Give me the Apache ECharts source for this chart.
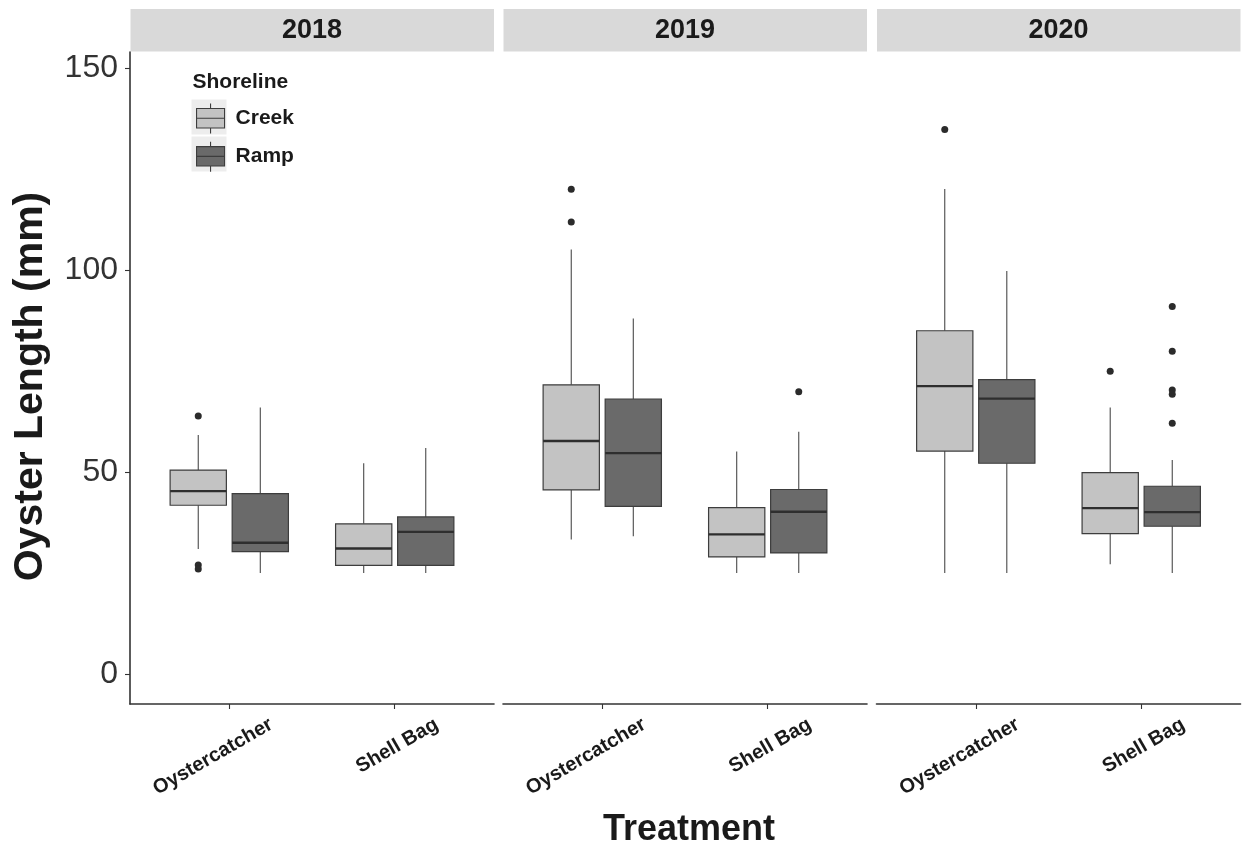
<!DOCTYPE html>
<html>
<head>
<meta charset="utf-8">
<script src="https://cdn.jsdelivr.net/npm/echarts@6/dist/echarts.min.js"></script>
<style>
  html, body { margin: 0; padding: 0; background: #ffffff; }
  #chart { width: 1248px; height: 849px; }
</style>
</head>
<body>
<div id="chart"></div>
<script>
// ---------------- data ----------------
const years = ['2018', '2019', '2020'];
const treatments = ['Oystercatcher', 'Shell Bag'];
const shorelines = ['Creek', 'Ramp'];
const yTicks = [0, 50, 100, 150];

// per year -> per treatment: [lower whisker, Q1, median, Q3, upper whisker] (mm)
const creekBoxes = [
  [[31.0, 41.8, 45.3, 50.5, 59.2], [25.0, 26.9, 31.1, 37.2, 52.2]],
  [[33.3, 45.6, 57.7, 71.6, 105.1], [25.0, 29.0, 34.6, 41.2, 55.1]],
  [[25.0, 55.2, 71.3, 85.0, 120.1], [27.2, 34.8, 41.1, 49.9, 66.0]]
];
const rampBoxes = [
  [[25.0, 30.3, 32.5, 44.7, 66.0], [25.0, 26.9, 35.2, 38.9, 56.0]],
  [[34.1, 41.5, 54.7, 68.1, 88.0], [25.0, 30.0, 40.2, 45.7, 60.0]],
  [[25.0, 52.2, 68.2, 72.9, 99.8], [25.0, 36.6, 40.1, 46.5, 53.0]]
];
// per year -> per treatment: outlier values (mm)
const creekOutliers = [
  [[63.9, 27.0, 26.0], []],
  [[120.0, 111.9], []],
  [[134.8], [75.0]]
];
const rampOutliers = [
  [[], []],
  [[], [69.9]],
  [[], [91.0, 79.9, 70.3, 69.3, 62.1]]
];

// ---------------- styling / layout ----------------
const FONT = '"Liberation Sans", Arial, Helvetica, sans-serif';
const FILLS = ['#c3c3c3', '#6a6a6a'];
const DODGE = [-0.1875, 0.1875];
const BOX_HALF = 0.17;
const LABEL_SHIFT = 0.254;
const GRID_LEFTS = [130, 503, 876.5];
const GRID_W = 364;
const GRID_TOP = 52;
const GRID_BOTTOM = 704;

function makeRender(offset, fill) {
  return function (params, api) {
    const x = api.value(0) + offset;
    const lo = api.coord([x, api.value(1)]);
    const q1 = api.coord([x, api.value(2)]);
    const md = api.coord([x, api.value(3)]);
    const q3 = api.coord([x, api.value(4)]);
    const hi = api.coord([x, api.value(5)]);
    const left = api.coord([x - BOX_HALF, api.value(3)])[0];
    const right = api.coord([x + BOX_HALF, api.value(3)])[0];
    const wStyle = { stroke: '#4a4a4a', lineWidth: 1.1 };
    return {
      type: 'group',
      children: [
        { type: 'line', shape: { x1: lo[0], y1: lo[1], x2: q1[0], y2: q1[1] }, style: wStyle },
        { type: 'line', shape: { x1: q3[0], y1: q3[1], x2: hi[0], y2: hi[1] }, style: wStyle },
        { type: 'rect', shape: { x: left, y: q3[1], width: right - left, height: q1[1] - q3[1] },
          style: { fill: fill, stroke: '#3d3d3d', lineWidth: 1.2 } },
        { type: 'line', shape: { x1: left, y1: md[1], x2: right, y2: md[1] },
          style: { stroke: '#2e2e2e', lineWidth: 2.4 } }
      ]
    };
  };
}

const grids = [], xAxes = [], yAxes = [], series = [], graphics = [];

years.forEach(function (yr, i) {
  grids.push({ left: GRID_LEFTS[i], width: GRID_W, top: GRID_TOP, height: GRID_BOTTOM - GRID_TOP,
    containLabel: false, outerBoundsMode: 'none' });
  xAxes.push({
    type: 'value', gridIndex: i, min: 0.4, max: 2.6,
    splitLine: { show: false },
    axisLine: { show: true, onZero: false, lineStyle: { color: '#333', width: 1.6 } },
    axisTick: { show: true, length: 5, customValues: [1, 2], lineStyle: { color: '#333', width: 1.1 } },
    axisLabel: {
      show: true, customValues: [1 + LABEL_SHIFT, 2 + LABEL_SHIFT], rotate: 30, margin: 19,
      align: 'right', verticalAlign: 'middle',
      fontFamily: FONT, fontWeight: 'bold', fontSize: 20, color: '#1a1a1a',
      formatter: function (v) { return treatments[Math.round(v - LABEL_SHIFT) - 1] || ''; }
    },
    name: i === 1 ? 'Treatment' : '',
    nameLocation: 'middle', nameGap: 108,
    nameTextStyle: { fontFamily: FONT, fontWeight: 'bold', fontSize: 36, color: '#1a1a1a', padding: [0, 0, 0, 8] }
  });
  yAxes.push({
    type: 'value', gridIndex: i, min: -7.4, max: 154,
    show: i === 0,
    splitLine: { show: false },
    axisLine: { show: i === 0, lineStyle: { color: '#333', width: 1.6 } },
    axisTick: { show: i === 0, length: 5, customValues: yTicks, lineStyle: { color: '#333', width: 1.1 } },
    axisLabel: { show: i === 0, customValues: yTicks, margin: 12, fontFamily: FONT, fontSize: 32, color: '#333' },
    name: i === 0 ? 'Oyster Length (mm)' : '',
    nameLocation: 'middle', nameGap: 79,
    nameTextStyle: { fontFamily: FONT, fontWeight: 'bold', fontSize: 41, color: '#1a1a1a', padding: [0, 17, 0, 0] }
  });

  [creekBoxes, rampBoxes].forEach(function (stats, s) {
    series.push({
      type: 'custom', name: shorelines[s], xAxisIndex: i, yAxisIndex: i,
      data: stats[i].map(function (b, t) { return [t + 1].concat(b); }),
      encode: { x: 0, y: [1, 2, 3, 4, 5] },
      itemStyle: { color: FILLS[s] },
      renderItem: makeRender(DODGE[s], FILLS[s]),
      z: 2
    });
  });
  [creekOutliers, rampOutliers].forEach(function (outs, s) {
    const pts = [];
    outs[i].forEach(function (arr, t) { arr.forEach(function (v) { pts.push([t + 1 + DODGE[s], v]); }); });
    series.push({
      type: 'scatter', name: shorelines[s], xAxisIndex: i, yAxisIndex: i,
      data: pts, symbolSize: 7, itemStyle: { color: '#2b2b2b', opacity: 1 }, z: 3,
      emphasis: { disabled: true }
    });
  });

  // facet strip
  graphics.push({ type: 'rect', left: GRID_LEFTS[i] + 0.5, top: 9, shape: { width: GRID_W - 0.5, height: 42.5 },
    style: { fill: '#d9d9d9' }, z: 0 });
  graphics.push({ type: 'text', x: GRID_LEFTS[i] + GRID_W / 2, y: 30.5,
    style: { text: yr, font: 'bold 27px ' + FONT, fill: '#1a1a1a', textAlign: 'center', textVerticalAlign: 'middle' }, z: 1 });
});

// legend key backgrounds and title
graphics.push({ type: 'rect', left: 191.5, top: 99.5, shape: { width: 35, height: 35 }, style: { fill: '#ededed' }, z: 0 });
graphics.push({ type: 'rect', left: 191.5, top: 136.5, shape: { width: 35, height: 35 }, style: { fill: '#ededed' }, z: 0 });
graphics.push({ type: 'text', x: 192.5, y: 82.5,
  style: { text: 'Shoreline', font: 'bold 21px ' + FONT, fill: '#1a1a1a', textAlign: 'left', textVerticalAlign: 'middle' }, z: 1 });

const ICON = 'path://M0,5H28V24.4H0Z M0,14.7H28 M14,0V5 M14,24.4V30';

const option = {
  backgroundColor: '#ffffff',
  animation: false,
  grid: grids,
  xAxis: xAxes,
  yAxis: yAxes,
  legend: {
    orient: 'vertical', left: 196, top: 103, padding: 0, itemGap: 7,
    itemWidth: 28, itemHeight: 30, symbolKeepAspect: false,
    textStyle: { fontFamily: FONT, fontWeight: 'bold', fontSize: 21, color: '#1a1a1a', padding: [0, 0, 0, 6] },
    data: shorelines.map(function (s, k) {
      return { name: s, icon: ICON, itemStyle: { color: FILLS[k], borderColor: '#3d3d3d', borderWidth: 1.1 } };
    })
  },
  graphic: graphics,
  series: series
};

const chart = echarts.init(document.getElementById('chart'), null, { renderer: 'canvas' });
chart.setOption(option);
</script>
</body>
</html>
